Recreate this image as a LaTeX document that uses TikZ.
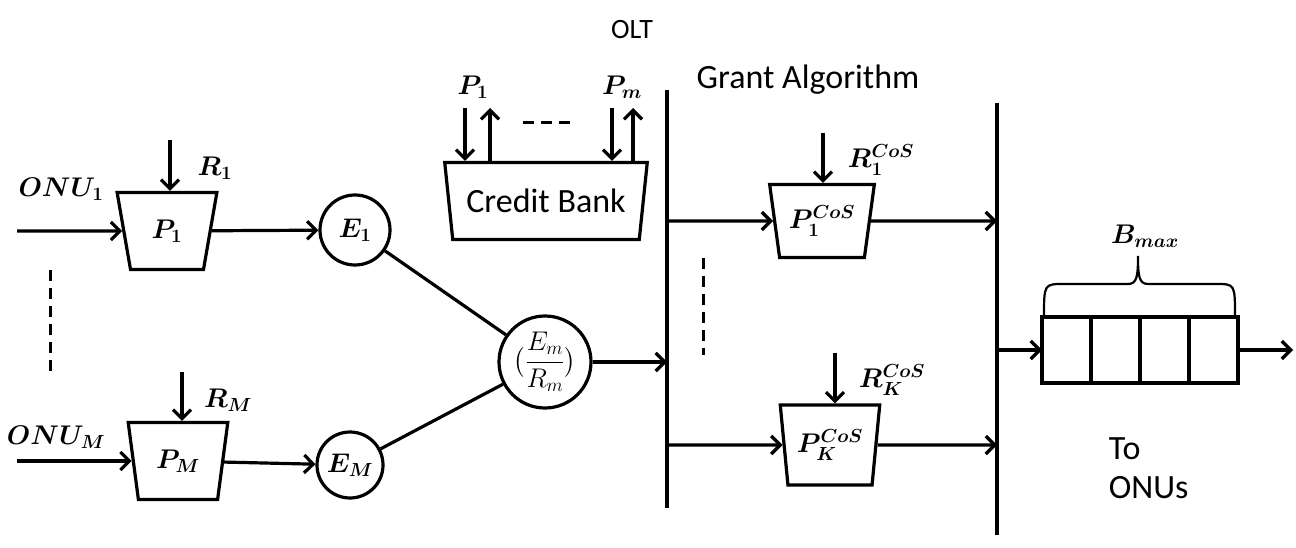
\documentclass[tikz,border=0pt]{standalone}
\usepackage{fix-cm}
\usepackage{amsmath}
\usepackage{fontspec}
\setmainfont{Carlito}
\usetikzlibrary{shapes.geometric,arrows.meta,positioning}

\tikzset{
  mux/.style={trapezium, draw, shape border rotate=180, trapezium stretches=true,
    trapezium angle=76, inner sep=0pt, minimum width=100pt, minimum height=77pt},
  sum/.style={circle, draw, inner sep=0pt},
  cell/.style={rectangle, draw, outer sep=0pt, minimum width=49pt, minimum height=66pt},
  arr/.style={-{Straight Barb[length=9pt,width=18pt]}},
  dots/.style={line width=3pt, dash pattern=on 11pt off 7pt},
  mlbl/.style={font=\boldmath\fontsize{27}{31}\selectfont},
  txt/.style={font=\fontsize{34}{40}\selectfont},
}

\begin{document}
\begin{tikzpicture}[x=1pt, y=-1pt, line width=3.2pt]
        \useasboundingbox (0,0) rectangle (1296,548);

        % Titles
        \node[txt, font=\fontsize{28}{32}\selectfont] (olt) at (632,30) {OLT};
        \node[txt] (grant) at (808,80) {Grant Algorithm};

        % ONU side
        \node[mux, mlbl] (p1) at (167,231) {$P_1$};
        \node[mux, mlbl] (pM) at (178,461) {$P_M$};
        \node[sum, mlbl, minimum size=70pt] (e1) at (355,230) {$E_1$};
        \node[sum, mlbl, minimum size=66pt] (eM) at (350,465) {$E_M$};
        \node[sum, mlbl, font=\fontsize{27}{31}\selectfont, minimum size=92pt] (mix) at (545,362)
          {$\bigl(\dfrac{E_m}{R_m}\bigr)$};

        \node[mlbl] (lonu1) at (61,189) {$ONU_1$};
        \node[mlbl] (lonuM) at (56,437) {$ONU_M$};
        \node[mlbl] (lr1) at (215,168) {$R_1$};
        \node[mlbl] (lrM) at (228,400) {$R_M$};

        \coordinate (onu1) at (17,231);
        \coordinate (onuM) at (17,461);
        \coordinate (r1) at (170,140);
        \coordinate (rM) at (182,372);

        % Credit bank
        \node[mux, txt, minimum width=203pt, trapezium angle=74] (bank) at (546,201) {Credit Bank};
        \node[mlbl] (lb1) at (473,87) {$P_1$};
        \node[mlbl] (lbm) at (622,87) {$P_m$};
        \coordinate (b1in) at (465,108);
        \coordinate (b1out) at (490,108);
        \coordinate (bmin) at (612,108);
        \coordinate (bmout) at (633,108);

        % Grant algorithm
        \coordinate (g1t) at (667,90);
        \coordinate (g1b) at (667,508);
        \coordinate (g2t) at (997,103);
        \coordinate (g2b) at (997,535);
        \node[mux, mlbl, minimum width=105pt, minimum height=73pt] (c1) at (822,221) {$P_1^{CoS}$};
        \node[mux, mlbl, minimum height=80pt, trapezium angle=79] (cK) at (830,445) {$P_K^{CoS}$};
        \node[mlbl] (lc1) at (881,160) {$R_1^{CoS}$};
        \node[mlbl] (lcK) at (892,380) {$R_K^{CoS}$};
        \coordinate (rc1) at (823,133);
        \coordinate (rcK) at (835,353);

        % Buffer
        \node[cell] (q1) at (1066.5,350) {};
        \node[cell, right=0pt of q1] (q2) {};
        \node[cell, right=0pt of q2] (q3) {};
        \node[cell, right=0pt of q3] (q4) {};
        \coordinate (onus) at (1293,350);
        \node[mlbl] (bmax) at (1145,236) {$B_{max}$};
        \node[txt, anchor=west, align=left, font=\fontsize{34}{39}\selectfont] (to) at (1104,468) {To\\ONUs};

        % Draw edges
        \draw[arr] (onu1) -- (p1);
        \draw[arr] (onuM) -- (pM);
        \draw[arr] (r1) -- (r1 |- p1.90);
        \draw[arr] (rM) -- (rM |- pM.90);
        \draw[arr] (p1) -- (e1);
        \draw[arr] (pM) -- (eM);
        \draw (e1) -- (mix);
        \draw (eM) -- (mix);
        \draw[arr] (mix) -- (mix -| g1t);

        \draw[arr] (b1in) -- (b1in |- bank.90);
        \draw[arr] (b1out |- bank.90) -- (b1out);
        \draw[arr] (bmin) -- (bmin |- bank.90);
        \draw[arr] (bmout |- bank.90) -- (bmout);

        \draw (g1t) -- (g1b);
        \draw (g2t) -- (g2b);
        \draw[arr] (c1 -| g1t) -- (c1);
        \draw[arr] (cK -| g1t) -- (cK);
        \draw[arr] (rc1) -- (rc1 |- c1.90);
        \draw[arr] (rcK) -- (rcK |- cK.90);
        \draw[arr] (c1) -- (c1 -| g2t);
        \draw[arr] (cK) -- (cK -| g2t);

        \draw[arr] (q1 -| g2t) -- (q1);
        \draw[arr] (q4) -- (onus);

        % Brace and dots
        \draw[line width=2.2pt] (1044,317) .. controls (1044,284) .. (1064,284) -- (1128,284)
          .. controls (1137,284) and (1138,276) .. (1138,256) .. controls (1138,276) and (1139,284) .. (1148,284)
          -- (1216,284) .. controls (1235,284) .. (1235,317);
        \draw[dots] (50,270) -- (50,375);
        \draw[dots] (703,258) -- (703,355);
        \draw[dots] (523,123) -- (570,123);
    \end{tikzpicture}
\end{document}
